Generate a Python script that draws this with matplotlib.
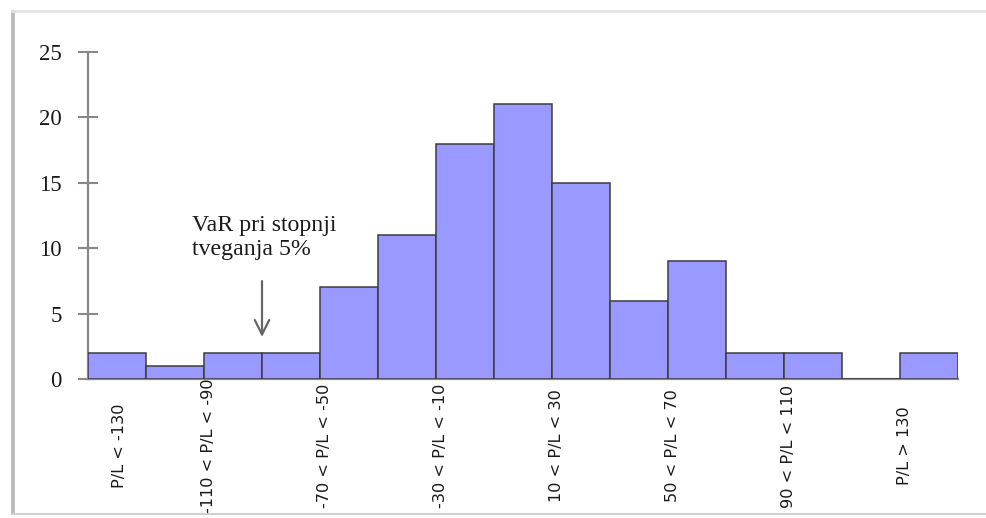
import matplotlib
matplotlib.use("Agg")
import matplotlib.pyplot as plt
from matplotlib.lines import Line2D
from matplotlib.transforms import blended_transform_factory

# P/L bins and the number of days falling in each
bin_labels = ["P/L < -130", "-110 < P/L < -90", "-70 < P/L < -50", "-30 < P/L < -10",
              "10 < P/L < 30", "50 < P/L < 70", "90 < P/L < 110", "P/L > 130"]
counts = [2, 1, 2, 2, 7, 11, 18, 21, 15, 6, 9, 2, 2, 0, 2]
y_ticks = [0, 5, 10, 15, 20, 25]
var_text = "VaR pri stopnji\ntveganja 5%"
var_bin_edge = 2.5  # boundary between the 3rd and 4th bin

W, H = 986, 518
fig = plt.figure(figsize=(W / 100, H / 100), dpi=100)
fig.patch.set_facecolor("white")

# card frame around the chart
fig.add_artist(Line2D([12.5 / W, 12.5 / W], [1 - 12 / H, 1 - 513 / H],
                      transform=fig.transFigure, color="#b8b8b8", lw=2.6))
fig.add_artist(Line2D([12 / W, 1.0], [1 - 11 / H, 1 - 11 / H],
                      transform=fig.transFigure, color="#e2e2e2", lw=1.8))
fig.add_artist(Line2D([12 / W, 1.0], [1 - 514 / H, 1 - 514 / H],
                      transform=fig.transFigure, color="#d0d0d0", lw=1.5))

ax = fig.add_axes([88 / W, 1 - 379 / H, (958 - 88) / W, (379 - 52) / H])
ax.set_facecolor("white")

x = list(range(len(counts)))
ax.bar(x, counts, width=1.0, color="#9999ff", edgecolor="#3c3c3c", linewidth=1.1, zorder=3)

ax.set_xlim(-0.5, len(counts) - 0.5)
ax.set_ylim(0, 25)

for side in ("top", "right"):
    ax.spines[side].set_visible(False)
for side in ("left", "bottom"):
    ax.spines[side].set_color("#888888")
    ax.spines[side].set_linewidth(1.6)
ax.spines["bottom"].set_zorder(2)

ax.set_yticks(y_ticks)
ax.set_yticklabels([str(v) for v in y_ticks], family="Liberation Serif", fontsize=16.5, color="#1a1a1a")
ax.tick_params(axis="y", direction="inout", length=14, width=1.5, color="#888888", pad=12)

# category labels sit on every second bin boundary, rotated and centred below the axis
tick_pos = [max(2 * i - 0.42, 0.05) for i in range(len(bin_labels))]
ax.set_xticks(tick_pos)
ax.set_xticklabels([])
ax.tick_params(axis="x", length=0)
label_tf = blended_transform_factory(ax.transData, fig.transFigure)
for pos, lab in zip(tick_pos, bin_labels):
    ax.text(pos, 1 - 446 / H, lab, transform=label_tf,
            rotation=90, ha="center", va="center", fontsize=11.6,
            family="DejaVu Sans", color="#1a1a1a")

# VaR marker
ax.annotate("", xy=(var_bin_edge, 3.0), xytext=(var_bin_edge, 7.7),
            arrowprops=dict(arrowstyle="->", color="#666666", lw=1.6,
                            mutation_scale=26), zorder=5)
ax.text(1.29, 12.55, var_text, ha="left", va="top", family="Liberation Serif",
        fontsize=17.2, color="#1a1a1a", linespacing=1.2)

fig.savefig("out.png", dpi=100)
